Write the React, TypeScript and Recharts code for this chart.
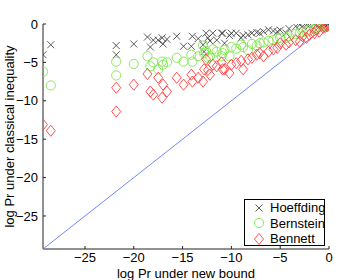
import React from 'react';
import { ScatterChart, Scatter, XAxis, YAxis, Legend } from 'recharts';

const xTicks = [-25, -20, -15, -10, -5, 0];
const yTicks = [-25, -20, -15, -10, -5, 0];
const axisMin = -29.3;

const newBound = [-29.3,-28.5,-21.8,-21.8,-20.0,-18.6,-18.3,-18.0,-17.5,-17.1,-17.0,-16.6,-15.6,-14.9,-14.0,-14.1,-13.4,-12.9,-12.8,-12.6,-12.4,-12.2,-11.9,-11.5,-11.0,-10.9,-10.7,-10.2,-10.0,-9.5,-9.0,-8.8,-8.3,-7.9,-7.4,-7.1,-6.7,-6.2,-5.7,-5.3,-5.0,-4.4,-4.1,-3.4,-3.0,-2.7,-2.3,-2.0,-1.5,-1.3,-1.0,-0.6,-0.4,-0.1,-0.2];

const hoeffding = [-4.0,-2.7,-2.8,-4.0,-2.6,-1.7,-3.0,-2.1,-2.1,-1.8,-2.6,-2.0,-1.6,-2.9,-1.6,-2.9,-1.9,-2.7,-3.6,-1.2,-1.8,-2.2,-1.2,-2.1,-1.2,-1.2,-2.5,-1.5,-1.2,-1.2,-1.8,-1.5,-1.4,-1.2,-1.1,-1.2,-1.0,-0.75,-0.9,-1.0,-0.8,-1.2,-0.6,-0.3,-0.1,-0.3,-0.1,-0.2,0,-0.1,-0.05,0,-0.05,0,-0.1];

const bernstein = [-6.2,-8.0,-4.9,-6.7,-5.2,-4.2,-5.5,-5.0,-5.9,-4.9,-5.3,-5.0,-4.4,-4.9,-4.9,-4.0,-4.2,-2.8,-3.8,-3.5,-4.4,-4.2,-3.3,-3.6,-4.2,-3.8,-3.4,-4.2,-3.0,-3.2,-2.7,-3.0,-3.4,-2.6,-2.8,-2.5,-2.4,-2.2,-2.1,-1.9,-1.8,-1.8,-1.6,-1.3,-1.2,-1.0,-1.0,-0.8,-0.6,-0.5,-0.4,-0.3,-0.2,-0.1,-0.3];

const bennett = [-13.1,-13.9,-8.3,-11.4,-7.9,-6.5,-8.8,-9.2,-7.0,-9.6,-7.9,-8.8,-7.0,-7.9,-7.5,-6.6,-7.0,-7.5,-5.9,-4.6,-6.0,-6.6,-5.3,-5.5,-5.0,-5.9,-5.9,-6.4,-5.3,-5.1,-4.8,-5.9,-4.6,-4.4,-4.0,-3.8,-4.2,-3.6,-3.3,-3.1,-2.5,-2.7,-2.4,-2.1,-2.3,-1.6,-1.8,-1.4,-1.2,-0.75,-1.0,-0.5,-0.4,-0.1,-0.3];

const diagonal = [axisMin, 0];

const seriesNames = ['Hoeffding', 'Bernstein', 'Bennett'];
const seriesColors = ['#333333', '#7ee84a', '#ff4040'];

const toPoints = (ys: number[]) => newBound.map((x, i) => ({ x, y: ys[i] }));
const diagData = diagonal.map((v) => ({ x: v, y: v }));

const FONT = '"Liberation Sans", Arial, Helvetica, sans-serif';

const XMark = (props: any) => {
  const { cx, cy } = props;
  const s = 3.5;
  return (
    <path
      d={`M${cx - s},${cy - s}L${cx + s},${cy + s}M${cx - s},${cy + s}L${cx + s},${cy - s}`}
      stroke={seriesColors[0]}
      strokeWidth={0.8}
      fill="none"
    />
  );
};

const CircleMark = (props: any) => {
  const { cx, cy } = props;
  return <circle cx={cx} cy={cy} r={4.6} stroke={seriesColors[1]} strokeWidth={0.9} fill="none" />;
};

const DiamondMark = (props: any) => {
  const { cx, cy } = props;
  const w = 4.5;
  const h = 5.6;
  return (
    <path
      d={`M${cx},${cy - h}L${cx + w},${cy}L${cx},${cy + h}L${cx - w},${cy}Z`}
      stroke={seriesColors[2]}
      strokeWidth={0.9}
      fill="none"
    />
  );
};

const NoMark = () => <g />;

const legendIcon = (i: number) => {
  const cx = 8;
  const cy = 8;
  if (i === 0) return <XMark cx={cx} cy={cy} />;
  if (i === 1) return <CircleMark cx={cx} cy={cy} />;
  return <DiamondMark cx={cx} cy={cy} />;
};

const renderLegend = () => (
  <div
    style={{
      width: 79,
      height: 45,
      border: '1px solid #000',
      background: '#fff',
      fontFamily: FONT,
      fontSize: 13,
      color: '#000',
      boxSizing: 'content-box',
    }}
  >
    {seriesNames.map((n, i) => (
      <div key={n} style={{ display: 'flex', alignItems: 'center', height: 15.5 }}>
        <svg width={16} height={16} style={{ marginLeft: 6, marginRight: 3, overflow: 'visible' }}>
          {legendIcon(i)}
        </svg>
        <span style={{ lineHeight: '15px' }}>{n}</span>
      </div>
    ))}
  </div>
);

const fmt = (v: number) => (v < 0 ? '\u2212' + Math.abs(v) : String(v));

const YLabel = () => (
  <text
    x={14}
    y={136.5}
    transform="rotate(-90 14 136.5)"
    textAnchor="middle"
    fontFamily={FONT}
    fontSize={13}
    fill="#000"
  >
    log Pr under classical inequality
  </text>
);

export default function App() {
  return (
    <div style={{ position: 'absolute', left: 0, top: 0, width: 341, height: 280, background: '#fff' }}>
      <ScatterChart width={341} height={280} margin={{ top: 24, right: 12, bottom: 0, left: 0 }}>
        <XAxis
          type="number"
          dataKey="x"
          domain={[axisMin, 0]}
          ticks={xTicks}
          allowDataOverflow
          height={31}
          tickSize={-3}
          tickMargin={7}
          tickFormatter={fmt}
          stroke="#222"
          tick={{ fill: '#000', fontSize: 13, fontFamily: FONT }}
          label={{ value: 'log Pr under new bound', position: 'insideBottom', offset: 2, fill: '#000', fontSize: 13, fontFamily: FONT }}
        />
        <XAxis
          xAxisId="top"
          orientation="top"
          type="number"
          dataKey="x"
          domain={[axisMin, 0]}
          ticks={xTicks}
          allowDataOverflow
          height={0}
          tickSize={3}
          tick={false}
          stroke="#222"
          label={{ value: 'n=10, z=2', position: 'top', offset: 8.5, fill: '#000', fontSize: 13, fontFamily: FONT }}
        />
        <YAxis
          type="number"
          dataKey="y"
          domain={[axisMin, 0]}
          ticks={yTicks}
          allowDataOverflow
          width={43}
          tickSize={-3}
          tickMargin={8}
          tickFormatter={fmt}
          stroke="#222"
          tick={{ fill: '#000', fontSize: 13, fontFamily: FONT }}
          label={<YLabel />}
        />
        <YAxis
          yAxisId="right"
          orientation="right"
          type="number"
          dataKey="y"
          domain={[axisMin, 0]}
          ticks={yTicks}
          allowDataOverflow
          width={0}
          tickSize={3}
          tick={false}
          stroke="#222"
        />
        <Legend
          layout="horizontal"
          verticalAlign="middle"
          align="center"
          content={renderLegend}
          wrapperStyle={{ position: 'absolute', left: 244, top: 199, width: 81, height: 47 }}
        />
        <Scatter
          name="diagonal"
          data={diagData}
          line={{ stroke: '#7286ff', strokeWidth: 1 }}
          lineType="joint"
          shape={NoMark}
          legendType="none"
          isAnimationActive={false}
        />
        <Scatter name={seriesNames[0]} data={toPoints(hoeffding)} shape={XMark} isAnimationActive={false} />
        <Scatter name={seriesNames[1]} data={toPoints(bernstein)} shape={CircleMark} isAnimationActive={false} />
        <Scatter name={seriesNames[2]} data={toPoints(bennett)} shape={DiamondMark} isAnimationActive={false} />
      </ScatterChart>
    </div>
  );
}
